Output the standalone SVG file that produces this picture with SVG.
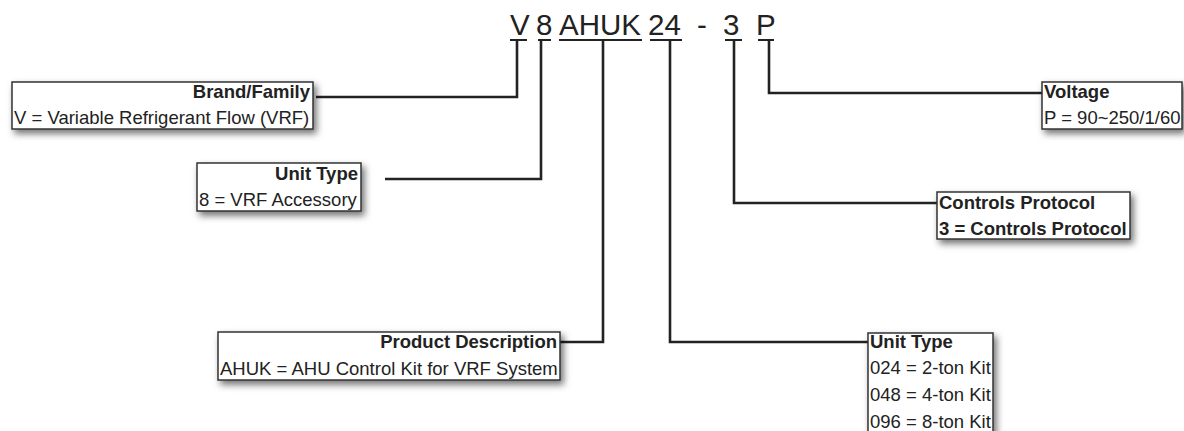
<svg xmlns="http://www.w3.org/2000/svg" width="1184" height="431" viewBox="0 0 1184 431">
<style>
  text { font-family: "Liberation Sans", Arial, sans-serif; fill: #222; }
  .code { font-size: 29.5px; }
  .t { font-size: 18.5px; font-weight: bold; }
  .v { font-size: 18.5px; }
  .box { fill: #fff; stroke: #333; stroke-width: 1.5; filter: url(#sh); }
  .ul { stroke: #222; stroke-width: 2; fill: none; }
  .con path { fill: none; stroke: #222; stroke-width: 2.6; }
</style>
<defs>
  <filter id="sh" x="-10%" y="-20%" width="130%" height="160%">
    <feDropShadow dx="3" dy="4" stdDeviation="3.5" flood-color="#000" flood-opacity="0.55"/>
  </filter>
</defs>
<rect width="1184" height="431" fill="#fff"/>

<g id="code">
  <text class="code" x="510" y="35">V</text>
  <text class="code" x="536" y="35">8</text>
  <text class="code" x="559" y="35">AHUK</text>
  <text class="code" x="648" y="35">24</text>
  <text class="code" x="697" y="35">-</text>
  <text class="code" x="723" y="35">3</text>
  <text class="code" x="756" y="35">P</text>
  <path class="ul" d="M510,40 H527 M538,40 H551 M559,40 H642 M650,40 H682 M725,40 H742 M758,40 H774"/>
</g>

<g id="connectors" class="con">
  <path d="M517,40 V97 H316"/>
  <path d="M541,40 V179 H385"/>
  <path d="M603,40 V342 H560"/>
  <path d="M670,40 V342 H868"/>
  <path d="M734,40 V203 H937"/>
  <path d="M769,40 V93 H1042"/>
</g>

<g id="brand">
  <rect class="box" x="12" y="82" width="301" height="47"/>
  <text class="t" x="310" y="98" text-anchor="end">Brand/Family</text>
  <text class="v" x="14" y="124">V = Variable Refrigerant Flow (VRF)</text>
</g>

<g id="unit-type-8">
  <rect class="box" x="197" y="163" width="164" height="48"/>
  <text class="t" x="358" y="180" text-anchor="end">Unit Type</text>
  <text class="v" x="199" y="206">8 = VRF Accessory</text>
</g>

<g id="product-description">
  <rect class="box" x="218" y="332" width="342" height="48"/>
  <text class="t" x="557" y="348" text-anchor="end">Product Description</text>
  <text class="v" x="220" y="375">AHUK = AHU Control Kit for VRF System</text>
</g>

<g id="unit-type-24">
  <rect class="box" x="868" y="333" width="125" height="112"/>
  <text class="t" x="870" y="348">Unit Type</text>
  <text class="v" x="870" y="374">024 = 2-ton Kit</text>
  <text class="v" x="870" y="401">048 = 4-ton Kit</text>
  <text class="v" x="870" y="428">096 = 8-ton Kit</text>
</g>

<g id="controls-protocol">
  <rect class="box" x="937" y="192" width="193" height="47"/>
  <text class="t" x="939" y="209">Controls Protocol</text>
  <text class="t" x="939" y="235">3 = Controls Protocol</text>
</g>

<g id="voltage">
  <rect class="box" x="1042" y="82" width="140" height="47"/>
  <text class="t" x="1044" y="98">Voltage</text>
  <text class="v" x="1044" y="124">P = 90~250/1/60</text>
</g>
</svg>
